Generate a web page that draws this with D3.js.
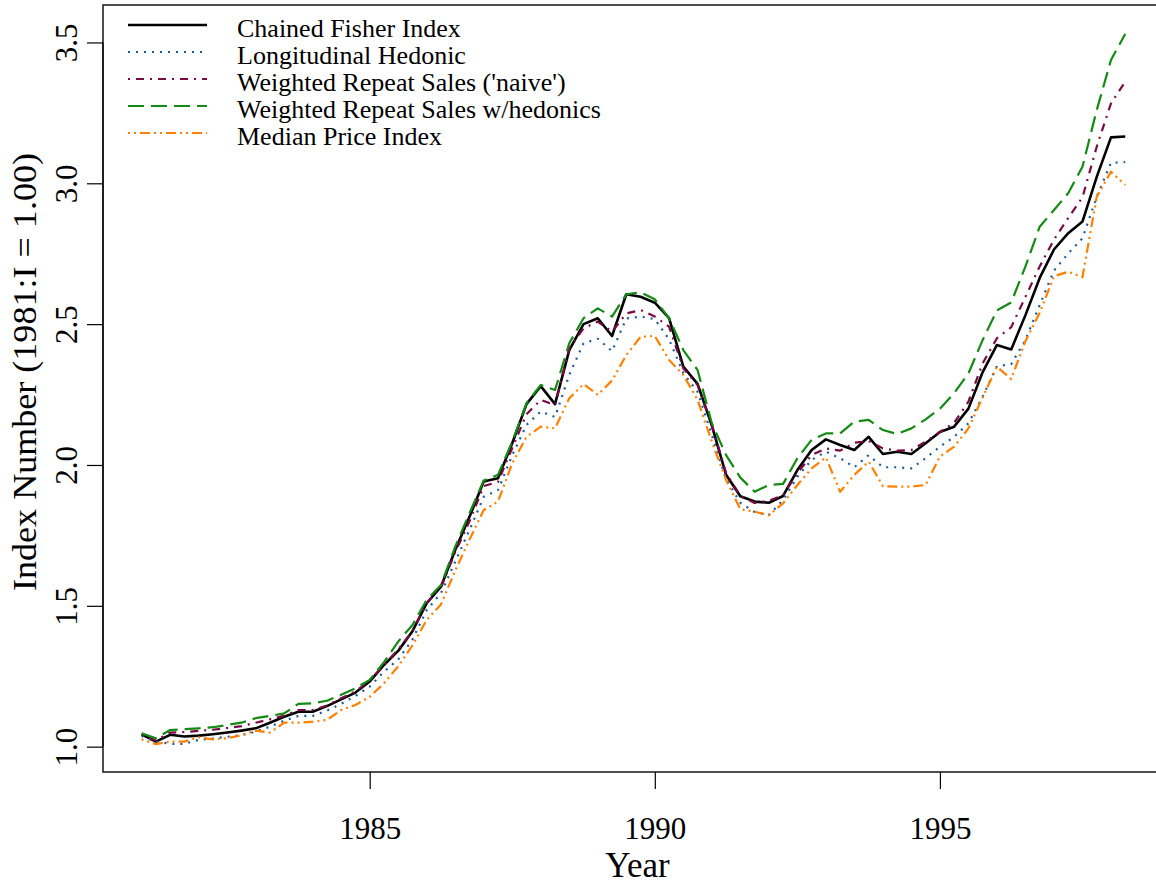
<!DOCTYPE html>
<html><head><meta charset="utf-8">
<script src="https://cdn.jsdelivr.net/npm/d3@7/dist/d3.min.js"></script>
<style>html,body{margin:0;padding:0;background:#fff;} svg{display:block;} text{font-family:"Liberation Serif","Times New Roman",serif;fill:#000;}</style>
</head><body><svg id="chart" width="1156" height="888"></svg>
<script>
const quarters = [1981,1981.25,1981.5,1981.75,1982,1982.25,1982.5,1982.75,1983,1983.25,1983.5,1983.75,1984,1984.25,1984.5,1984.75,1985,1985.25,1985.5,1985.75,1986,1986.25,1986.5,1986.75,1987,1987.25,1987.5,1987.75,1988,1988.25,1988.5,1988.75,1989,1989.25,1989.5,1989.75,1990,1990.25,1990.5,1990.75,1991,1991.25,1991.5,1991.75,1992,1992.25,1992.5,1992.75,1993,1993.25,1993.5,1993.75,1994,1994.25,1994.5,1994.75,1995,1995.25,1995.5,1995.75,1996,1996.25,1996.5,1996.75,1997,1997.25,1997.5,1997.75,1998,1998.25];

const fisher = [1.044,1.018,1.042,1.036,1.039,1.044,1.050,1.057,1.065,1.085,
1.106,1.124,1.124,1.144,1.168,1.192,1.231,1.290,1.340,1.410,
1.509,1.568,1.698,1.816,1.941,1.953,2.077,2.216,2.280,2.216,
2.408,2.500,2.521,2.458,2.606,2.597,2.576,2.521,2.349,2.288,
2.140,1.965,1.889,1.870,1.866,1.890,1.982,2.053,2.091,2.071,
2.053,2.100,2.039,2.047,2.039,2.077,2.117,2.136,2.200,2.330,
2.426,2.410,2.532,2.664,2.765,2.823,2.864,3.023,3.163,3.166];

const hedonic = [1.038,1.018,1.010,1.010,1.024,1.029,1.035,1.041,1.053,1.071,
1.092,1.109,1.109,1.128,1.152,1.180,1.213,1.266,1.310,1.380,
1.485,1.545,1.657,1.769,1.887,1.911,2.035,2.142,2.190,2.170,
2.320,2.432,2.448,2.404,2.520,2.527,2.518,2.446,2.326,2.260,
2.107,1.950,1.866,1.833,1.822,1.876,1.958,2.018,2.047,2.024,
1.992,2.035,1.992,1.992,1.988,2.024,2.065,2.100,2.148,2.243,
2.351,2.358,2.444,2.568,2.690,2.751,2.805,2.952,3.073,3.075];

const repeatNaive = [1.044,1.022,1.050,1.052,1.056,1.060,1.066,1.073,1.085,1.097,
1.110,1.130,1.130,1.146,1.172,1.196,1.235,1.290,1.345,1.410,
1.510,1.566,1.690,1.800,1.925,1.940,2.060,2.180,2.231,2.213,
2.414,2.485,2.509,2.473,2.538,2.550,2.527,2.491,2.343,2.284,
2.142,1.971,1.890,1.865,1.873,1.893,1.971,2.035,2.059,2.051,
2.079,2.085,2.059,2.051,2.053,2.083,2.117,2.150,2.225,2.361,
2.450,2.489,2.597,2.705,2.800,2.877,2.950,3.130,3.284,3.361];

const repeatHedonic = [1.047,1.030,1.059,1.062,1.065,1.069,1.077,1.085,1.101,1.109,
1.118,1.152,1.154,1.163,1.184,1.207,1.237,1.300,1.373,1.432,
1.521,1.574,1.710,1.829,1.945,1.965,2.083,2.219,2.284,2.266,
2.432,2.521,2.556,2.527,2.606,2.613,2.588,2.521,2.408,2.337,
2.148,2.035,1.955,1.905,1.929,1.933,2.024,2.089,2.112,2.112,
2.154,2.160,2.124,2.110,2.130,2.162,2.200,2.255,2.325,2.444,
2.549,2.577,2.705,2.846,2.905,2.965,3.059,3.260,3.438,3.530];

const medianPrice = [1.026,1.009,1.018,1.018,1.033,1.026,1.030,1.040,1.057,1.050,
1.085,1.085,1.089,1.095,1.130,1.148,1.177,1.225,1.285,1.360,
1.450,1.505,1.625,1.735,1.840,1.870,2.006,2.100,2.136,2.130,
2.237,2.287,2.249,2.300,2.390,2.455,2.458,2.373,2.320,2.231,
2.083,1.947,1.843,1.834,1.822,1.864,1.929,1.988,2.027,1.905,
1.965,2.012,1.925,1.923,1.923,1.929,2.030,2.065,2.130,2.240,
2.349,2.305,2.440,2.540,2.670,2.686,2.667,2.952,3.041,2.994];

const seriesNames = ["Chained Fisher Index","Longitudinal Hedonic","Weighted Repeat Sales ('naive')","Weighted Repeat Sales w/hedonics","Median Price Index"];
const xTicks = [1985, 1990, 1995];
const yTicks = [1.0, 1.5, 2.0, 2.5, 3.0, 3.5];
const xTitle = "Year";
const yTitle = "Index Number (1981:I = 1.00)";

const seriesData = [fisher, hedonic, repeatNaive, repeatHedonic, medianPrice];
const styles = [
  {color:"#000000", dash:null, width:2.6},
  {color:"#1b5b9a", dash:"2,6", width:2.2},
  {color:"#7a0a46", dash:"2,6,8,6", width:2.2},
  {color:"#138a13", dash:"16,7", width:2.2},
  {color:"#ff8000", dash:"2,4,2,4,10,4", width:2.2}
];

const svg = d3.select("#chart");
const L = 103, T = 5, B = 772, R = 1172;
const x = d3.scaleLinear().domain([1980.323, 1999.07]).range([L, R]);
const y = d3.scaleLinear().domain([0.910, 3.633]).range([B, T]);

svg.append("rect").attr("width",1156).attr("height",888).attr("fill","#fff");

// lines
const line = d3.line().x((d,i)=>x(quarters[i])).y(d=>y(d));
seriesData.forEach((s,k)=>{
  svg.append("path").datum(s).attr("d", line)
    .attr("fill","none").attr("stroke",styles[k].color)
    .attr("stroke-width",styles[k].width)
    .attr("stroke-dasharray",styles[k].dash)
    .attr("stroke-linejoin","round");
});

// frame
svg.append("rect").attr("x",L).attr("y",T).attr("width",R-L).attr("height",B-T)
  .attr("fill","none").attr("stroke","#222").attr("stroke-width",1.6);

// y axis
const yAxis = svg.append("g").attr("transform",`translate(${L},0)`)
  .call(d3.axisLeft(y).tickValues(yTicks).tickFormat(d3.format(".1f")).tickSize(16));
yAxis.select(".domain").attr("d",`M0,${y(1.0)}V${y(3.5)}`).attr("stroke","#000").attr("stroke-width",1.2);
yAxis.selectAll(".tick line").attr("stroke","#000").attr("stroke-width",1.2);
yAxis.selectAll(".tick text").attr("transform","rotate(-90)").attr("x",0).attr("y",-26).attr("dy",0)
  .attr("text-anchor","middle").style("font-size","31px").style("font-family","'Liberation Serif',serif");

// x axis
const xAxis = svg.append("g").attr("transform",`translate(0,${B})`)
  .call(d3.axisBottom(x).tickValues(xTicks).tickFormat(d3.format("d")).tickSize(17));
xAxis.select(".domain").remove();
xAxis.selectAll(".tick line").attr("stroke","#000").attr("stroke-width",1.2);
xAxis.selectAll(".tick text").attr("y",67).attr("dy",0)
  .style("font-size","31px").style("font-family","'Liberation Serif',serif");

// titles
svg.append("text").attr("x",(L+R)/2).attr("y",877).attr("text-anchor","middle")
  .style("font-size","35px").text(xTitle);
svg.append("text").attr("transform",`translate(36,372) rotate(-90)`).attr("text-anchor","middle")
  .attr("textLength",438).attr("lengthAdjust","spacingAndGlyphs")
  .style("font-size","33px").text(yTitle);

// legend
const lg = svg.append("g");
seriesNames.forEach((name,k)=>{
  const yy = 25 + k*27;
  lg.append("line").attr("x1",128).attr("x2",207).attr("y1",yy).attr("y2",yy)
    .attr("stroke",styles[k].color).attr("stroke-width",styles[k].width)
    .attr("stroke-dasharray",styles[k].dash);
  lg.append("text").attr("x",237).attr("y",yy+12).style("font-size","26px").text(name);
});
</script></body></html>
